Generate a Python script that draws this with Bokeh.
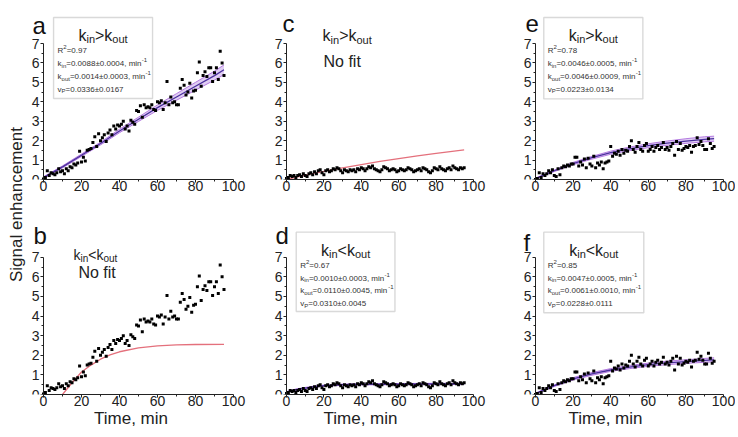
import math
from bokeh.plotting import figure
from bokeh.models import Range1d, Label, BoxAnnotation, FixedTicker
from bokeh.layouts import row, column
from bokeh.embed import file_html
from bokeh.resources import INLINE

# ---------------- data ----------------
times = list(range(0, 96))  # min

sig_a = [0.02, 0.10, 0.45, 0.20, 0.35, 0.30, 0.25, 0.35, 0.55, 0.40,
         0.45, 0.30, 0.55, 0.45, 0.65, 0.60, 0.80, 0.75, 0.85, 1.45,
         0.90, 1.15, 0.95, 1.50, 1.55, 1.60, 1.90, 2.20, 1.70, 2.35,
         2.00, 2.15, 2.30, 1.95, 2.40, 2.55, 2.30, 2.75, 2.60, 2.80,
         2.75, 2.85, 3.00, 2.60, 2.75, 2.50, 3.05, 2.95, 2.85, 3.55,
         3.50, 3.80, 3.20, 3.85, 3.70, 3.75, 3.70, 3.85, 3.60, 3.55,
         4.00, 3.95, 4.05, 3.60, 3.95, 5.05, 3.85, 4.25, 3.95, 4.00,
         3.85, 3.85, 4.70, 5.15, 4.85, 4.35, 4.50, 4.95, 4.20, 4.55,
         4.60, 5.50, 6.05, 4.80, 5.35, 5.55, 5.30, 5.75, 5.75, 5.05,
         5.50, 5.75, 5.15, 6.60, 6.00, 5.35]

sig_c = [0.05, 0.10, 0.20, 0.15, 0.20, 0.10, 0.20, 0.25, 0.15, 0.30,
         0.20, 0.15, 0.30, 0.35, 0.25, 0.40, 0.30, 0.45, 0.50, 0.35,
         0.25, 0.45, 0.50, 0.40, 0.45, 0.55, 0.50, 0.60, 0.55, 0.45,
         0.35, 0.50, 0.45, 0.40, 0.50, 0.45, 0.50, 0.40, 0.55, 0.50,
         0.60, 0.55, 0.45, 0.55, 0.65, 0.60, 0.70, 0.55, 0.50, 0.45,
         0.40, 0.50, 0.65, 0.60, 0.55, 0.45, 0.50, 0.55, 0.50, 0.40,
         0.45, 0.55, 0.50, 0.45, 0.50, 0.60, 0.55, 0.50, 0.40, 0.45,
         0.50, 0.55, 0.45, 0.60, 0.55, 0.50, 0.40, 0.35, 0.45, 0.60,
         0.55, 0.50, 0.65, 0.55, 0.50, 0.45, 0.55, 0.60, 0.50, 0.70,
         0.60, 0.55, 0.50, 0.60, 0.55, 0.60]

sig_e = [0.00, 0.05, 0.35, 0.10, 0.30, 0.20, 0.30, 0.45, 0.35, 0.50,
         0.20, 0.15, 0.55, 0.25, 0.60, 0.70, 0.65, 0.75, 0.70, 0.80,
         0.80, 1.15, 1.15, 0.70, 0.90, 0.75, 1.05, 0.60, 1.10, 0.80,
         0.70, 1.20, 0.60, 0.85, 0.75, 0.90, 0.55, 0.85, 0.90, 0.95,
         1.70, 1.20, 1.35, 1.30, 1.45, 1.25, 1.55, 1.35, 1.50, 1.45,
         1.70, 2.00, 1.55, 1.40, 1.70, 1.90, 1.55, 1.45, 1.75, 1.85,
         1.45, 1.55, 1.70, 1.45, 1.65, 1.75, 1.55, 1.65, 1.90, 1.55,
         1.65, 1.50, 1.70, 1.85, 1.25, 1.95, 1.55, 1.85, 1.50, 1.60,
         1.70, 1.65, 1.75, 1.40, 1.70, 1.75, 2.15, 1.80, 1.95, 1.75,
         1.55, 1.55, 2.10, 1.85, 1.60, 1.70]

# fitted curves (sampled)
fit_t = [0, 10, 20, 30, 40, 50, 60, 70, 80, 90, 95]
fit_a = [0.10, 0.65, 1.25, 1.85, 2.50, 3.10, 3.70, 4.25, 4.80, 5.35, 5.65]
fit_a_lo = [0.06, 0.60, 1.19, 1.78, 2.41, 2.99, 3.56, 4.08, 4.60, 5.12, 5.40]
fit_a_hi = [0.14, 0.70, 1.31, 1.92, 2.59, 3.21, 3.84, 4.42, 5.00, 5.58, 5.90]

fit_e = [0.05, 0.45, 0.82, 1.12, 1.38, 1.58, 1.74, 1.87, 1.98, 2.07, 2.10]
fit_e_lo = [0.03, 0.41, 0.76, 1.05, 1.30, 1.49, 1.64, 1.76, 1.86, 1.94, 1.97]
fit_e_hi = [0.07, 0.49, 0.88, 1.19, 1.46, 1.67, 1.84, 1.98, 2.10, 2.20, 2.23]

fit_f = [0.05, 0.45, 0.80, 1.05, 1.25, 1.40, 1.52, 1.61, 1.68, 1.74, 1.77]
fit_f_lo = [0.03, 0.41, 0.74, 0.98, 1.18, 1.32, 1.44, 1.52, 1.59, 1.64, 1.67]
fit_f_hi = [0.07, 0.49, 0.86, 1.12, 1.32, 1.48, 1.60, 1.70, 1.77, 1.84, 1.87]

fit_d_t = [0, 5, 10, 15, 20, 30, 40, 60, 80, 95]
fit_d = [0.12, 0.25, 0.33, 0.40, 0.45, 0.50, 0.52, 0.53, 0.54, 0.54]
fit_d_lo = [0.09, 0.22, 0.30, 0.37, 0.42, 0.47, 0.49, 0.50, 0.51, 0.51]
fit_d_hi = [0.15, 0.28, 0.36, 0.43, 0.48, 0.53, 0.55, 0.56, 0.57, 0.57]

red_b_t = [10, 15, 20, 25, 30, 35, 40, 50, 60, 70, 80, 95]
red_b = [0.00, 0.60, 1.15, 1.50, 1.80, 2.02, 2.18, 2.38, 2.48, 2.53, 2.55, 2.56]

red_c_t = [0, 10, 20, 30, 40, 50, 60, 70, 80, 95]
red_c = [0.00, 0.22, 0.42, 0.60, 0.77, 0.93, 1.08, 1.22, 1.35, 1.52]

x_ticks = [0, 20, 40, 60, 80, 100]
x_minor = [10, 30, 50, 70, 90]
y_ticks = [0, 1, 2, 3, 4, 5, 6, 7]
y_minor = [0.5, 1.5, 2.5, 3.5, 4.5, 5.5, 6.5]

stats_a = ["0.97", "0.0088\u00b10.0004", "0.0014\u00b10.0003", "0.0336\u00b10.0167"]
stats_d = ["0.67", "0.0010\u00b10.0003", "0.0110\u00b10.0045", "0.0310\u00b10.0045"]
stats_e = ["0.78", "0.0046\u00b10.0005", "0.0046\u00b10.0009", "0.0223\u00b10.0134"]
stats_f = ["0.85", "0.0047\u00b10.0005", "0.0061\u00b10.0010", "0.0228\u00b10.0111"]

# ---------------- style ----------------
FONT = "Liberation Sans"
TXT = "#222222"
RED = "#e4707c"
BAND_FILL = "#d8c2f0"
BAND_LINE = "#b47ae0"
FIT_LINE = "#4b2f9e"

W = {'0': .556, '1': .556, '2': .556, '3': .556, '4': .556, '5': .556, '6': .556,
     '7': .556, '8': .556, '9': .556, '.': .278, ',': .278, ' ': .278, '=': .584,
     '\u00b1': .584, '>': .584, '<': .584, '-': .333, 'k': .5, 'i': .222, 'n': .556,
     'o': .556, 'u': .556, 't': .278, 'm': .833, 'R': .722, 'v': .5, 'P': .667,
     'N': .722, 'f': .278}


def tw(s, size):
    return sum(W.get(c, .556) for c in s) * size


def make_fig(w, h, lead, ppx, br, bt, bb, ymax, xlabel):
    xmin = -lead / ppx
    p = figure(width=w, height=h, x_range=Range1d(xmin, 100), y_range=Range1d(0, ymax),
               output_backend="svg", toolbar_location=None,
               min_border_left=0, min_border_right=br, min_border_top=bt,
               min_border_bottom=bb)
    p.outline_line_color = None
    p.grid.visible = False
    p.xaxis.ticker = FixedTicker(ticks=x_ticks, minor_ticks=x_minor)
    p.yaxis.ticker = FixedTicker(ticks=y_ticks, minor_ticks=y_minor)
    p.xaxis.bounds = (0, 100)
    p.yaxis.bounds = (0, 7)
    p.yaxis.fixed_location = 0
    for ax in (p.xaxis[0], p.yaxis[0]):
        ax.axis_line_color = "#222222"
        ax.major_tick_line_color = "#222222"
        ax.minor_tick_line_color = "#222222"
        ax.major_tick_out = 3
        ax.major_tick_in = 0
        ax.minor_tick_out = 2
        ax.minor_tick_in = 0
        ax.major_label_text_font = FONT
        ax.major_label_text_font_size = "14px"
        ax.major_label_text_color = TXT
    p.yaxis.major_label_standoff = 1
    p.xaxis.major_label_standoff = -2
    if xlabel:
        p.xaxis.axis_label = xlabel
        p.xaxis.axis_label_text_font = FONT
        p.xaxis.axis_label_text_font_size = "17px"
        p.xaxis.axis_label_text_font_style = "normal"
        p.xaxis.axis_label_text_color = TXT
        p.xaxis.axis_label_standoff = 0
    return p


def rich(p, x, y, segs, ppu, align="left", x0=0, color=TXT):
    total = sum(tw(t, s) for t, s, _ in segs)
    off = x0 - total / 2 if align == "center" else x0
    for t, s, dy in segs:
        p.add_layout(Label(x=x, y=y + dy / ppu, x_offset=off, text=t,
                           text_font=FONT, text_font_size=f"{s}px",
                           text_color=color, text_baseline="alphabetic",
                           text_align="left"))
        off += tw(t, s)


def letter(p, x, y, t):
    p.add_layout(Label(x=x, y=y, text=t, text_font=FONT, text_font_size="24px",
                       text_color="#111111", text_baseline="alphabetic"))


def title(p, x, y, ppu, rel, align="left", big=16, small=11):
    rich(p, x, y, [("k", big, 0), ("in", small, -4), (rel + "k", big, 0), ("out", small, -4)],
         ppu, align=align)


def box(p, left, right, top, bottom, ppu, rel, stats):
    p.add_layout(BoxAnnotation(left=left, right=right, top=top, bottom=bottom,
                               fill_color="white", fill_alpha=1.0,
                               line_color="#808080", line_width=1.4))
    title(p, (left + right) / 2, top - 18 / ppu, ppu, rel, align="center")
    lines = [
        [("R", 8, 0), ("2", 6, 3.5), ("=" + stats[0], 8, 0)],
        [("k", 8, 0), ("in", 6, -2), ("=" + stats[1] + ", min", 8, 0), ("-1", 6, 3.5)],
        [("k", 8, 0), ("out", 6, -2), ("=" + stats[2] + ", min", 8, 0), ("-1", 6, 3.5)],
        [("v", 8, 0), ("P", 6, -2), ("=" + stats[3], 8, 0)],
    ]
    for i, segs in enumerate(lines):
        rich(p, left, top - (33.5 + 12.8 * i) / ppu, segs, ppu, x0=4, color="#333333")


def band(p, t, lo, hi, mid):
    p.varea(x=t, y1=lo, y2=hi, fill_color=BAND_FILL, fill_alpha=0.8)
    p.line(t, lo, line_color=BAND_LINE, line_width=1)
    p.line(t, hi, line_color=BAND_LINE, line_width=1)
    p.line(t, mid, line_color=FIT_LINE, line_width=1.3)


def points(p, y):
    p.scatter(times, y, marker="square", size=3.0, fill_color="black",
              line_color=None)


# geometry (page has no margin: content starts at 0,0)
Y1MAX, Y2MAX = 8.70, 9.13
H1, H2 = 207, 223
F1, F2 = 169, 180
PPU1, PPU2 = F1 / Y1MAX, F2 / Y2MAX

pa = make_fig(219, H1, 15, 1.90, 14, 10, 28, Y1MAX, None)
pc = make_fig(240, H1, 39, 1.87, 14, 10, 28, Y1MAX, None)
pe = make_fig(248, H1, 48, 1.88, 12, 10, 28, Y1MAX, None)
pb = make_fig(219, H2, 15, 1.90, 14, 8, 35, Y2MAX, "Time, min")
pd = make_fig(240, H2, 39, 1.87, 14, 8, 35, Y2MAX, "Time, min")
pf = make_fig(248, H2, 48, 1.88, 12, 8, 35, Y2MAX, "Time, min")

# a
band(pa, fit_t, fit_a_lo, fit_a_hi, fit_a)
points(pa, sig_a)
box(pa, 5.3, 57.4, 8.34, 4.17, PPU1, ">", stats_a)
letter(pa, -5.8, 7.93, "a")

# b
pb.line(red_b_t, red_b, line_color=RED, line_width=1.3)
points(pb, sig_a)
title(pb, 15.8, 7.12, PPU2, "<", big=14, small=10)
rich(pb, 18.4, 6.24, [("No fit", 16, 0)], PPU2)
letter(pb, -5.3, 8.12, "b")

# c
pc.line(red_c_t, red_c, line_color=RED, line_width=1.3)
points(pc, sig_c)
title(pc, 19.3, 7.41, PPU1, ">")
rich(pc, 19.8, 6.07, [("No fit", 16, 0)], PPU1)
letter(pc, -2.1, 8.03, "c")

# d
band(pd, fit_d_t, fit_d_lo, fit_d_hi, fit_d)
points(pd, sig_c)
box(pd, 5.2, 58.0, 8.28, 4.23, PPU2, "<", stats_d)
letter(pd, -5.9, 8.12, "d")

# e
band(pe, fit_t, fit_e_lo, fit_e_hi, fit_e)
points(pe, sig_e)
box(pe, 4.4, 57.1, 8.34, 4.15, PPU1, ">", stats_e)
letter(pe, -5.3, 8.03, "e")

# f
band(pf, fit_t, fit_f_lo, fit_f_hi, fit_f)
points(pf, sig_e)
box(pf, 4.4, 57.6, 8.28, 4.17, PPU2, "<", stats_f)
letter(pf, -6.4, 7.76, "f")

# shared y label
LH = H1 + H2
lab = figure(width=28, height=LH, x_range=Range1d(0, 28), y_range=Range1d(0, LH),
             x_axis_location=None, y_axis_location=None, min_border=0,
             output_backend="svg", toolbar_location=None)
lab.outline_line_color = None
lab.grid.visible = False
lab.add_layout(Label(x=16, y=LH - 204, angle=math.pi / 2, text="Signal enhancement",
                     text_font=FONT, text_font_size="17px", text_color=TXT,
                     text_align="center", text_baseline="middle"))

layout = row(lab, column(row(pa, pc, pe), row(pb, pd, pf)))

with open("out.html", "w") as fh:
    fh.write(file_html(layout, INLINE))
